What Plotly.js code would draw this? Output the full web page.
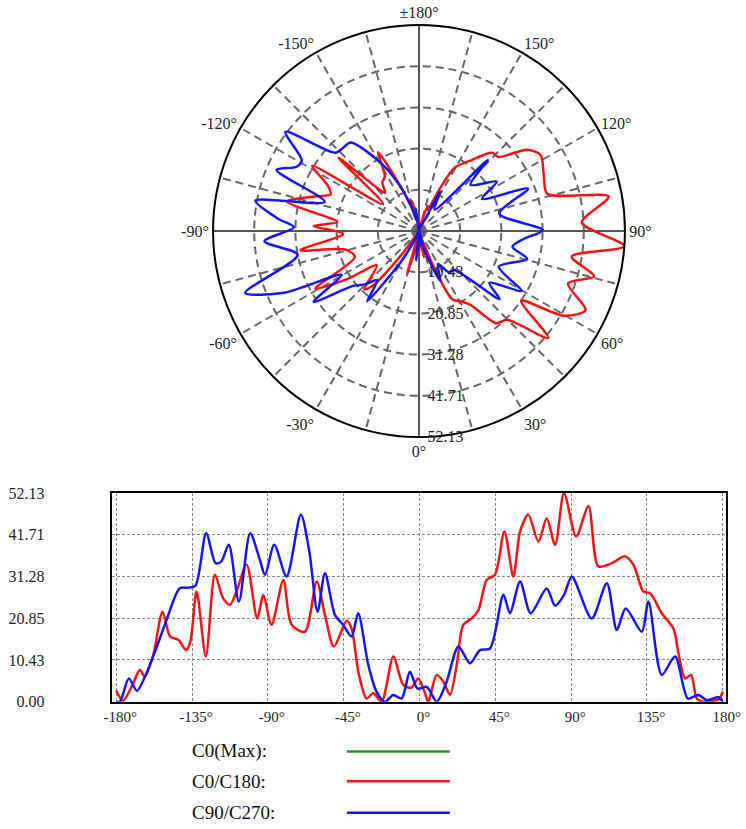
<!DOCTYPE html>
<html><head><meta charset="utf-8">
<script src="https://cdn.plot.ly/plotly-3.0.1.min.js"></script>
<style>html,body{margin:0;padding:0;background:#fff}#chart{width:746px;height:829px}</style>
</head><body><div id="chart"></div>
<script>
// C0/C180 (red)
const redAngles = [-180,-176,-170,-166,-163,-158,-152.5,-148,-143,-138.5,-136,-132.3,-126.8,-121.4,-116.5,-112.5,-108.6,-102.6,-96.3,-92.7,-87.8,-80.8,-75.9,-68,-61,-56.1,-50.8,-43.2,-40.3,-36.3,-31.4,-27.4,-22.5,-15.5,-9.6,-4.7,-0.7,3.3,5.2,10.2,14.2,18.1,22.1,26,31,35,39.9,44.8,50.4,55.7,59.7,64.6,70.6,75.5,80.5,85.8,93,100.3,106.2,114.1,122,127,132.9,136.9,143.8,150.7,153.7,157.7,161.2,164.6,168.5,173.5,177.8,180];
const redValues = [2.8,0.2,4.5,7.9,6.3,11.7,22.5,16.3,15.4,12.9,15,27.5,11.3,31.7,25.8,24.2,27.5,34.2,20.8,26.7,19.2,30.4,19.2,17.5,30,21.7,13.8,20.2,18.3,7.5,0.8,2.1,0,11.3,4.2,3.5,5.8,2.1,0,6.7,5,1.7,9.2,19.2,20.8,22.9,30.4,31.7,42.5,31.3,42.5,46.7,40,45.8,39.2,52.1,41.3,48.8,33.8,34.6,36.3,34.2,27.5,27.1,22.1,18.3,12.1,5.8,6.7,0.8,0,0.2,0.6,2.5];
// C90/C270 (blue)
const blueAngles = [-180,-177.8,-172.5,-167.7,-162.2,-156.3,-150.3,-142.4,-137.5,-133,-126.6,-121,-117.7,-113.2,-107.2,-100.5,-95,-91.7,-86.2,-78.9,-70.4,-65.4,-60.5,-56.1,-50.2,-45.3,-40.3,-36.4,-30.4,-25.5,-20.5,-15.6,-10.6,-5.7,-1.2,4.3,10.2,16.1,23.1,30,35.9,41.9,49.8,53.7,59.7,66,75.5,80.5,85.8,90.4,102.2,111.2,117.1,122.4,131.9,135.9,143.8,151.7,159.3,165.6,170.5,177.4,180];
const blueValues = [0,0,5.8,2.7,7,13.3,20.2,28.3,28.5,29,42.1,34.6,35,39.2,25,42.1,35.8,31.7,39.2,31.3,46.7,37.5,22.5,32.1,21.7,19.2,16.3,22.1,9.2,2.5,0,1.7,0.8,7.5,3.3,3.7,0,5,13.8,9.6,12.9,13.3,26.7,22.1,30,22.1,28.3,24,26.7,31.3,20.8,29.6,17.9,23.3,17.5,25,6.7,11.3,0.8,1.7,0.4,1.1,0];

const maxValue = 52.13;
const ringValues = [10.43, 20.85, 31.28, 41.71, 52.13];
const ringLabels = ['10.43', '20.85', '31.28', '41.71', '52.13'];
const yTickValues = [0, 10.43, 20.85, 31.28, 41.71, 52.13];
const yTickLabels = ['0.00', '10.43', '20.85', '31.28', '41.71', '52.13'];
const xTickValues = [-180, -135, -90, -45, 0, 45, 90, 135, 180];
const xTickLabels = ['-180°', '-135°', '-90°', '-45°', '0°', '45°', '90°', '135°', '180°'];
const polarTickValues = [0,15,30,45,60,75,90,105,120,135,150,165,180,195,210,225,240,255,270,285,300,315,330,345];
const polarTickLabels = ['0°','','30°','','60°','','90°','','120°','','150°','','±180°','','-150°','','-120°','','-90°','','-60°','','-30°',''];
const crossAngles = [0, 180, null, 90, 270];
const legendNames = ['C0(Max):', 'C0/C180:', 'C90/C270:'];
const seriesColors = ['#22a022', '#ee1515', '#1515ee'];

const serif = 'Liberation Serif, Times New Roman, serif';
const lw = 2.5;
const pad = '\u00a0\u00a0';

const traces = [
  {type:'scatterpolar', r: crossAngles.map(a => a === null ? null : maxValue), theta: crossAngles,
   mode:'lines', line:{color:'#555', width:2}, hoverinfo:'skip', showlegend:false, connectgaps:false},
  {type:'scatterpolar', r: redValues, theta: redAngles, mode:'lines',
   line:{color:seriesColors[1], width:lw, shape:'spline', smoothing:0.8}, name:'C0/C180'},
  {type:'scatterpolar', r: blueValues, theta: blueAngles, mode:'lines',
   line:{color:seriesColors[2], width:lw, shape:'spline', smoothing:0.8}, name:'C90/C270'},
  {type:'scatter', x: redAngles, y: redValues, mode:'lines', xaxis:'x', yaxis:'y',
   line:{color:seriesColors[1], width:lw, shape:'spline', smoothing:0.8}, name:'C0/C180'},
  {type:'scatter', x: blueAngles, y: blueValues, mode:'lines', xaxis:'x', yaxis:'y',
   line:{color:seriesColors[2], width:lw, shape:'spline', smoothing:0.8}, name:'C90/C270'}
];

const legendY = [0.0935, 0.0575, 0.0195];
const annotations = legendNames.map((t, i) => ({
  text: t, xref:'paper', yref:'paper', x: 0.255, y: legendY[i], xanchor:'left', yanchor:'middle',
  showarrow:false, font:{family: serif, size: 19, color:'#111'}
}));
const shapes = legendNames.map((t, i) => ({
  type:'line', xref:'paper', yref:'paper', x0: 0.465, x1: 0.603, y0: legendY[i], y1: legendY[i],
  line:{color: seriesColors[i], width: 2.5}
}));

const layout = {
  width: 746, height: 829,
  margin:{l:0, r:0, t:0, b:0},
  paper_bgcolor:'#fff', plot_bgcolor:'#fff',
  showlegend:false,
  font:{family: serif, color:'#222'},
  polar:{
    domain:{x:[0.2855, 0.8378], y:[0.4729, 0.9698]},
    bgcolor:'#fff',
    angularaxis:{
      rotation: 270, direction:'counterclockwise', thetaunit:'degrees',
      tickmode:'array', tickvals: polarTickValues, ticktext: polarTickLabels,
      ticks:'', showline:true, linecolor:'#000', linewidth:2,
      showgrid:true, gridcolor:'#666', gridwidth:2, griddash:'8px,5px',
      tickfont:{family: serif, size: 16, color:'#222'}
    },
    radialaxis:{
      range:[0, maxValue], angle: -90, side:'counterclockwise', tickangle: -90,
      tickmode:'array', tickvals: ringValues, ticktext: ringLabels.map(s => pad + s),
      ticks:'', showline:false,
      showgrid:true, gridcolor:'#666', gridwidth:2, griddash:'8px,5px',
      tickfont:{family: serif, size: 16, color:'#222'}
    }
  },
  xaxis:{
    domain:[0.1497, 0.9736], range:[-182.7, 182.1], anchor:'y',
    tickmode:'array', tickvals: xTickValues, ticktext: xTickLabels,
    ticks:'', showline:true, mirror:true, linecolor:'#000', linewidth:2,
    showgrid:true, gridcolor:'#888', gridwidth:1, griddash:'3px,2px', zeroline:false,
    ticklabelshift: 4,
    tickfont:{family: serif, size: 15, color:'#222'}
  },
  yaxis:{
    domain:[0.15355, 0.4053], range:[0, maxValue], anchor:'x',
    tickmode:'array', tickvals: yTickValues, ticktext: yTickLabels,
    ticks:'', showline:true, mirror:true, linecolor:'#000', linewidth:2,
    showgrid:true, gridcolor:'#888', gridwidth:1, griddash:'3px,2px', zeroline:false,
    ticklabelstandoff: 62,
    tickfont:{family: serif, size: 16, color:'#222'}
  },
  annotations: annotations,
  shapes: shapes
};

Plotly.newPlot('chart', traces, layout, {displayModeBar:false, staticPlot:true});
</script>
</body></html>
